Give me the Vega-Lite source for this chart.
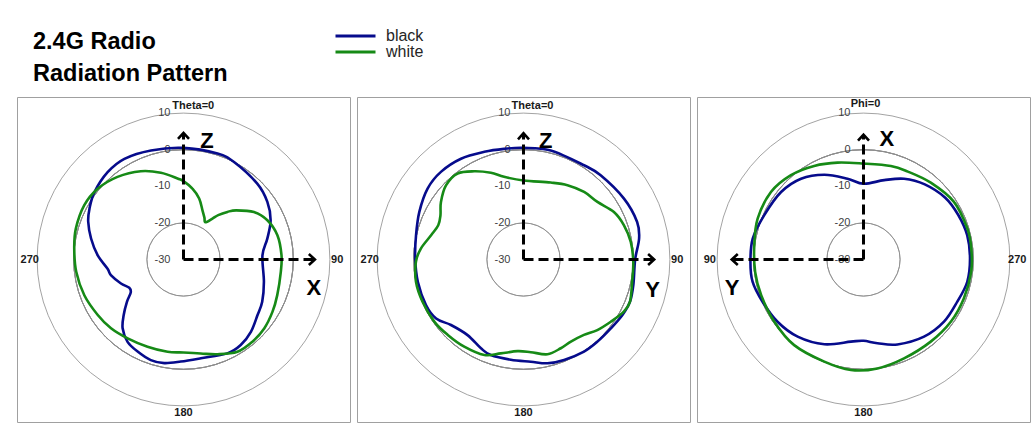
{
"$schema":"https://vega.github.io/schema/vega-lite/v6.json",
"background":"white",
"padding":{"left":16,"top":28,"right":7,"bottom":10},
"config":{"view":{"stroke":"#a0a0a0","strokeWidth":1},"font":"Liberation Sans"},
"title":{"text":["2.4G Radio","Radiation Pattern"],"anchor":"start","frame":"group","fontSize":23.5,"fontWeight":"bold","lineHeight":32,"color":"#000000","offset":-57,"dx":16,"font":"Liberation Sans"},
"spacing":5,
"resolve":{"scale":{"color":"shared"},"legend":{"color":"shared"}},
"datasets":{
"rings":[{"db":-20},{"db":-10},{"db":0},{"db":10}],
"dblabels":[{"db":10,"lab":"10"},{"db":0,"lab":"0"},{"db":-10,"lab":"-10"},{"db":-20,"lab":"-20"},{"db":-30,"lab":"-30"}],
"cats":[{"lab":"90","theta":90},{"lab":"180","theta":180},{"lab":"270","theta":270}],
"p1":[
{"series":"black","theta":0,"db":0.5},{"series":"black","theta":17.8,"db":0.4},{"series":"black","theta":27.4,"db":0.0},{"series":"black","theta":44.2,"db":-1.1},{"series":"black","theta":55.5,"db":-2.2},{"series":"black","theta":65.8,"db":-3.9},{"series":"black","theta":76,"db":-6.4},{"series":"black","theta":87,"db":-8.4},{"series":"black","theta":105.5,"db":-7.2},{"series":"black","theta":118.2,"db":-5.6},{"series":"black","theta":127,"db":-4.7},{"series":"black","theta":137,"db":-3.0},{"series":"black","theta":146.2,"db":-1.9},{"series":"black","theta":155,"db":-1.7},{"series":"black","theta":170,"db":-2.6},{"series":"black","theta":181.5,"db":-2.1},{"series":"black","theta":190.5,"db":-1.2},{"series":"black","theta":198,"db":-1.1},{"series":"black","theta":206.5,"db":-1.9},{"series":"black","theta":214.2,"db":-2.8},{"series":"black","theta":221.5,"db":-4.9},{"series":"black","theta":227.1,"db":-7.7},{"series":"black","theta":233.2,"db":-10.7},{"series":"black","theta":238,"db":-13.0},{"series":"black","theta":242.5,"db":-13.3},{"series":"black","theta":249,"db":-11.7},{"series":"black","theta":257.8,"db":-9.7},{"series":"black","theta":263,"db":-9.1},{"series":"black","theta":272.9,"db":-6.5},{"series":"black","theta":282.8,"db":-4.1},{"series":"black","theta":291.6,"db":-2.0},{"series":"black","theta":298.4,"db":-0.8},{"series":"black","theta":307,"db":0.5},{"series":"black","theta":319,"db":1.6},{"series":"black","theta":329.6,"db":1.9},{"series":"black","theta":343.4,"db":1.1},
{"series":"white","theta":0,"db":-8.6},{"series":"white","theta":7.2,"db":-10.5},{"series":"white","theta":14.4,"db":-12.8},{"series":"white","theta":21.1,"db":-15.6},{"series":"white","theta":26.5,"db":-17.2},{"series":"white","theta":30.5,"db":-18.2},{"series":"white","theta":35.3,"db":-16.3},{"series":"white","theta":38,"db":-14.6},{"series":"white","theta":42.7,"db":-12.3},{"series":"white","theta":47,"db":-10.3},{"series":"white","theta":56,"db":-6.8},{"series":"white","theta":64.9,"db":-4.7},{"series":"white","theta":75.5,"db":-3.5},{"series":"white","theta":87.5,"db":-3.2},{"series":"white","theta":97.2,"db":-3.2},{"series":"white","theta":110.8,"db":-2.6},{"series":"white","theta":120.5,"db":-1.8},{"series":"white","theta":130.5,"db":-1.0},{"series":"white","theta":140,"db":-0.7},{"series":"white","theta":149.7,"db":-0.8},{"series":"white","theta":160.3,"db":-2.5},{"series":"white","theta":169.6,"db":-3.9},{"series":"white","theta":180,"db":-4.6},{"series":"white","theta":189.8,"db":-4.4},{"series":"white","theta":202.4,"db":-4.2},{"series":"white","theta":215.3,"db":-3.6},{"series":"white","theta":226.5,"db":-2.7},{"series":"white","theta":237.1,"db":-2.1},{"series":"white","theta":250.2,"db":-1.2},{"series":"white","theta":263.5,"db":-0.5},{"series":"white","theta":275.7,"db":0.0},{"series":"white","theta":286,"db":0.6},{"series":"white","theta":298.7,"db":0.9},{"series":"white","theta":309.5,"db":0.4},{"series":"white","theta":321.4,"db":-1.1},{"series":"white","theta":334.2,"db":-3.2},{"series":"white","theta":345.4,"db":-5.5},{"series":"white","theta":355.8,"db":-7.8}
],
"p2":[
{"series":"black","theta":0,"db":0.5},{"series":"black","theta":14,"db":0.7},{"series":"black","theta":32.7,"db":0.6},{"series":"black","theta":42.5,"db":1.2},{"series":"black","theta":58.8,"db":2.1},{"series":"black","theta":71.7,"db":2.7},{"series":"black","theta":79.7,"db":2.1},{"series":"black","theta":90,"db":0.5},{"series":"black","theta":103,"db":0.8},{"series":"black","theta":111.6,"db":1.3},{"series":"black","theta":119.3,"db":1.0},{"series":"black","theta":128.3,"db":0.4},{"series":"black","theta":138,"db":0.2},{"series":"black","theta":146.7,"db":0.1},{"series":"black","theta":158,"db":-0.4},{"series":"black","theta":167,"db":-0.9},{"series":"black","theta":175.9,"db":-2.0},{"series":"black","theta":187.2,"db":-2.4},{"series":"black","theta":198.9,"db":-2.4},{"series":"black","theta":205.6,"db":-3.1},{"series":"black","theta":216.5,"db":-4.3},{"series":"black","theta":227.9,"db":-3.3},{"series":"black","theta":236,"db":-1.2},{"series":"black","theta":245,"db":-0.6},{"series":"black","theta":258,"db":-0.5},{"series":"black","theta":270.5,"db":-0.4},{"series":"black","theta":282.7,"db":0.1},{"series":"black","theta":294.6,"db":1.3},{"series":"black","theta":306.5,"db":2.6},{"series":"black","theta":316.7,"db":2.9},{"series":"black","theta":328.2,"db":2.4},{"series":"black","theta":340,"db":1.3},{"series":"black","theta":350,"db":0.7},
{"series":"white","theta":0,"db":-8.4},{"series":"white","theta":19.5,"db":-7.7},{"series":"white","theta":30.6,"db":-6.4},{"series":"white","theta":41.9,"db":-5.2},{"series":"white","theta":52.1,"db":-4.4},{"series":"white","theta":62.3,"db":-2.1},{"series":"white","theta":71.2,"db":-1.0},{"series":"white","theta":80.7,"db":-0.3},{"series":"white","theta":91.2,"db":0.0},{"series":"white","theta":101.6,"db":0.3},{"series":"white","theta":111.6,"db":1.3},{"series":"white","theta":117.5,"db":0.9},{"series":"white","theta":125.5,"db":-0.7},{"series":"white","theta":133.7,"db":-2.1},{"series":"white","theta":141.3,"db":-3.6},{"series":"white","theta":150,"db":-4.1},{"series":"white","theta":157.2,"db":-3.7},{"series":"white","theta":165.8,"db":-3.3},{"series":"white","theta":175.5,"db":-4.6},{"series":"white","theta":183.7,"db":-4.9},{"series":"white","theta":193.6,"db":-3.6},{"series":"white","theta":202.3,"db":-1.8},{"series":"white","theta":214.2,"db":-1.2},{"series":"white","theta":225.1,"db":-0.8},{"series":"white","theta":235,"db":-0.3},{"series":"white","theta":247.3,"db":-0.1},{"series":"white","theta":258.3,"db":0.0},{"series":"white","theta":268.8,"db":-0.6},{"series":"white","theta":276.1,"db":-1.8},{"series":"white","theta":284.7,"db":-3.9},{"series":"white","theta":291.9,"db":-4.9},{"series":"white","theta":298,"db":-4.3},{"series":"white","theta":304.9,"db":-2.5},{"series":"white","theta":313.7,"db":-0.7},{"series":"white","theta":322.5,"db":-0.4},{"series":"white","theta":330.8,"db":-2.4},{"series":"white","theta":339.4,"db":-4.7},{"series":"white","theta":346.8,"db":-6.8}
],
"p3":[
{"series":"black","theta":0,"db":-9.3},{"series":"black","theta":11.2,"db":-7.5},{"series":"black","theta":24.8,"db":-4.5},{"series":"black","theta":37.7,"db":-2.1},{"series":"black","theta":50.7,"db":-0.9},{"series":"black","theta":65.9,"db":-0.3},{"series":"black","theta":79.3,"db":0.8},{"series":"black","theta":91.2,"db":0.9},{"series":"black","theta":101.4,"db":0.9},{"series":"black","theta":112.7,"db":-0.1},{"series":"black","theta":125.9,"db":-1.0},{"series":"black","theta":139.5,"db":-2.3},{"series":"black","theta":155.2,"db":-4.5},{"series":"black","theta":171.3,"db":-7.3},{"series":"black","theta":180,"db":-7.8},{"series":"black","theta":189.5,"db":-6.8},{"series":"black","theta":201.8,"db":-5.0},{"series":"black","theta":218.1,"db":-3.2},{"series":"black","theta":232.3,"db":-2.2},{"series":"black","theta":245.8,"db":-1.9},{"series":"black","theta":257.9,"db":-1.0},{"series":"black","theta":270.5,"db":-0.9},{"series":"black","theta":283.2,"db":-0.9},{"series":"black","theta":295.3,"db":-1.4},{"series":"black","theta":307.1,"db":-2.0},{"series":"black","theta":320.8,"db":-3.5},{"series":"black","theta":333.3,"db":-5.3},{"series":"black","theta":345.4,"db":-7.6},
{"series":"white","theta":0,"db":-3.8},{"series":"white","theta":15,"db":-2.6},{"series":"white","theta":27.8,"db":-1.1},{"series":"white","theta":40.7,"db":0.4},{"series":"white","theta":53.9,"db":1.3},{"series":"white","theta":68.9,"db":1.0},{"series":"white","theta":82.5,"db":0.1},{"series":"white","theta":96.5,"db":-0.2},{"series":"white","theta":109.2,"db":-0.4},{"series":"white","theta":124.9,"db":-0.3},{"series":"white","theta":141,"db":0.1},{"series":"white","theta":159,"db":-0.1},{"series":"white","theta":173.5,"db":0.4},{"series":"white","theta":187.3,"db":0.0},{"series":"white","theta":202.3,"db":-0.8},{"series":"white","theta":219.3,"db":-1.0},{"series":"white","theta":234.5,"db":-0.7},{"series":"white","theta":248.8,"db":-0.6},{"series":"white","theta":263.5,"db":-0.4},{"series":"white","theta":275.8,"db":-0.4},{"series":"white","theta":286.6,"db":-0.4},{"series":"white","theta":302.5,"db":-0.7},{"series":"white","theta":318.8,"db":-2.1},{"series":"white","theta":333.5,"db":-3.1},{"series":"white","theta":343.7,"db":-3.4}
]
},
"hconcat":[
{"width":333,"height":325,"layer":[
{"data":{"name":"rings"},"mark":{"type":"arc","filled":false,"stroke":"#8c8c8c","strokeWidth":0.8},"encoding":{"radius":{"field":"db","type":"quantitative","scale":{"type":"linear","domain":[-30,10],"range":[0,146.4],"zero":false,"nice":false}},"theta":{"value":0},"theta2":{"value":6.2832}}},
{"data":{"name":"dblabels"},"transform":[{"calculate":"datum.db+30","as":"r"}],"mark":{"type":"text","align":"right","baseline":"middle","dx":-13,"fontSize":11,"color":"#404040"},"encoding":{"x":{"datum":0,"type":"quantitative","scale":{"domain":[-45.49,45.49],"nice":false,"zero":false},"axis":null},"y":{"field":"r","type":"quantitative","scale":{"domain":[-44.4,44.4],"nice":false,"zero":false},"axis":null},"text":{"field":"lab","type":"nominal"}}},
{"data":{"name":"p1"},"transform":[{"calculate":"(datum.db+30)*sin(datum.theta*PI/180)","as":"x"},{"calculate":"(datum.db+30)*cos(datum.theta*PI/180)","as":"y"}],"mark":{"type":"line","interpolate":"cardinal-closed","strokeWidth":2.6},"encoding":{"x":{"field":"x","type":"quantitative","scale":{"domain":[-45.49,45.49],"nice":false,"zero":false},"axis":null},"y":{"field":"y","type":"quantitative","scale":{"domain":[-44.4,44.4],"nice":false,"zero":false},"axis":null},"order":{"field":"theta","type":"quantitative"},"color":{"field":"series","type":"nominal","scale":{"domain":["black","white"],"range":["#060b8c","#168a16"]},"legend":{"orient":"none","legendX":330.5,"legendY":-69,"title":null,"symbolType":"M-4,0L4,0","symbolSize":100,"symbolStrokeWidth":3,"labelFont":"Liberation Sans","labelFontSize":16,"labelColor":"#262626","labelOffset":22.5,"rowPadding":0,"padding":0}}}},
{"data":{"name":"cats"},"transform":[{"calculate":"42*sin(datum.theta*PI/180)","as":"x"},{"calculate":"42*cos(datum.theta*PI/180)","as":"y"}],"mark":{"type":"text","align":"center","baseline":"middle","fontSize":11,"fontWeight":"bold","color":"#1a1a1a"},"encoding":{"x":{"field":"x","type":"quantitative","scale":{"domain":[-45.49,45.49],"nice":false,"zero":false},"axis":null},"y":{"field":"y","type":"quantitative","scale":{"domain":[-44.4,44.4],"nice":false,"zero":false},"axis":null},"text":{"field":"lab","type":"nominal"}}},
{"data":{"values":[{"lab":"Theta=0"}]},"mark":{"type":"text","align":"center","baseline":"middle","dx":9.8,"fontSize":11,"fontWeight":"bold","color":"#1a1a1a"},"encoding":{"x":{"datum":0,"type":"quantitative"},"y":{"datum":41.9,"type":"quantitative"},"text":{"field":"lab","type":"nominal"}}},
{"data":{"values":[{"axis":"Z"}]},"mark":{"type":"rule","color":"#000000","strokeWidth":3,"strokeDash":[10,5]},"encoding":{"x":{"datum":0,"type":"quantitative"},"y":{"datum":0,"type":"quantitative"},"y2":{"datum":34.4}}},
{"data":{"values":[{"axis":"X"}]},"mark":{"type":"rule","color":"#000000","strokeWidth":3,"strokeDash":[10,5]},"encoding":{"x":{"datum":0,"type":"quantitative"},"x2":{"datum":35.8},"y":{"datum":0,"type":"quantitative"}}},
{"data":{"values":[{"axis":"Z"}]},"mark":{"type":"point","shape":"M-1,1.1L0,0L1,1.1","size":121,"filled":false,"color":"#000000","strokeWidth":2.6,"opacity":1},"encoding":{"x":{"datum":0,"type":"quantitative"},"y":{"datum":34.6,"type":"quantitative"}}},
{"data":{"values":[{"axis":"X"}]},"mark":{"type":"point","shape":"M-1.1,-1L0,0L-1.1,1","size":121,"filled":false,"color":"#000000","strokeWidth":2.6,"opacity":1},"encoding":{"x":{"datum":35.9,"type":"quantitative"},"y":{"datum":0,"type":"quantitative"}}},
{"data":{"values":[{"axis":"Z"}]},"mark":{"type":"text","align":"center","baseline":"middle","fontSize":22,"fontWeight":"bold","color":"#000000"},"encoding":{"x":{"datum":6.4,"type":"quantitative"},"y":{"datum":32.5,"type":"quantitative"},"text":{"field":"axis","type":"nominal"}}},
{"data":{"values":[{"axis":"X"}]},"mark":{"type":"text","align":"center","baseline":"middle","fontSize":22,"fontWeight":"bold","color":"#000000"},"encoding":{"x":{"datum":35.6,"type":"quantitative"},"y":{"datum":-7.9,"type":"quantitative"},"text":{"field":"axis","type":"nominal"}}}
]},
{"width":333,"height":325,"layer":[
{"data":{"name":"rings"},"mark":{"type":"arc","filled":false,"stroke":"#8c8c8c","strokeWidth":0.8},"encoding":{"radius":{"field":"db","type":"quantitative","scale":{"type":"linear","domain":[-30,10],"range":[0,146.4],"zero":false,"nice":false}},"theta":{"value":0},"theta2":{"value":6.2832}}},
{"data":{"name":"dblabels"},"transform":[{"calculate":"datum.db+30","as":"r"}],"mark":{"type":"text","align":"right","baseline":"middle","dx":-13,"fontSize":11,"color":"#404040"},"encoding":{"x":{"datum":0,"type":"quantitative","scale":{"domain":[-45.49,45.49],"nice":false,"zero":false},"axis":null},"y":{"field":"r","type":"quantitative","scale":{"domain":[-44.4,44.4],"nice":false,"zero":false},"axis":null},"text":{"field":"lab","type":"nominal"}}},
{"data":{"name":"p2"},"transform":[{"calculate":"(datum.db+30)*sin(datum.theta*PI/180)","as":"x"},{"calculate":"(datum.db+30)*cos(datum.theta*PI/180)","as":"y"}],"mark":{"type":"line","interpolate":"cardinal-closed","strokeWidth":2.6},"encoding":{"x":{"field":"x","type":"quantitative","scale":{"domain":[-45.49,45.49],"nice":false,"zero":false},"axis":null},"y":{"field":"y","type":"quantitative","scale":{"domain":[-44.4,44.4],"nice":false,"zero":false},"axis":null},"order":{"field":"theta","type":"quantitative"},"color":{"field":"series","type":"nominal","scale":{"domain":["black","white"],"range":["#060b8c","#168a16"]},"legend":{"orient":"none","legendX":330.5,"legendY":-69,"title":null,"symbolType":"M-4,0L4,0","symbolSize":100,"symbolStrokeWidth":3,"labelFont":"Liberation Sans","labelFontSize":16,"labelColor":"#262626","labelOffset":22.5,"rowPadding":0,"padding":0}}}},
{"data":{"name":"cats"},"transform":[{"calculate":"42*sin(datum.theta*PI/180)","as":"x"},{"calculate":"42*cos(datum.theta*PI/180)","as":"y"}],"mark":{"type":"text","align":"center","baseline":"middle","fontSize":11,"fontWeight":"bold","color":"#1a1a1a"},"encoding":{"x":{"field":"x","type":"quantitative","scale":{"domain":[-45.49,45.49],"nice":false,"zero":false},"axis":null},"y":{"field":"y","type":"quantitative","scale":{"domain":[-44.4,44.4],"nice":false,"zero":false},"axis":null},"text":{"field":"lab","type":"nominal"}}},
{"data":{"values":[{"lab":"Theta=0"}]},"mark":{"type":"text","align":"center","baseline":"middle","dx":9,"fontSize":11,"fontWeight":"bold","color":"#1a1a1a"},"encoding":{"x":{"datum":0,"type":"quantitative"},"y":{"datum":41.9,"type":"quantitative"},"text":{"field":"lab","type":"nominal"}}},
{"data":{"values":[{"axis":"Z"}]},"mark":{"type":"rule","color":"#000000","strokeWidth":3,"strokeDash":[10,5]},"encoding":{"x":{"datum":0,"type":"quantitative"},"y":{"datum":0,"type":"quantitative"},"y2":{"datum":34.4}}},
{"data":{"values":[{"axis":"Y"}]},"mark":{"type":"rule","color":"#000000","strokeWidth":3,"strokeDash":[10,5]},"encoding":{"x":{"datum":0,"type":"quantitative"},"x2":{"datum":35.6},"y":{"datum":0,"type":"quantitative"}}},
{"data":{"values":[{"axis":"Z"}]},"mark":{"type":"point","shape":"M-1,1.1L0,0L1,1.1","size":121,"filled":false,"color":"#000000","strokeWidth":2.6,"opacity":1},"encoding":{"x":{"datum":0,"type":"quantitative"},"y":{"datum":34.5,"type":"quantitative"}}},
{"data":{"values":[{"axis":"Y"}]},"mark":{"type":"point","shape":"M-1.1,-1L0,0L-1.1,1","size":121,"filled":false,"color":"#000000","strokeWidth":2.6,"opacity":1},"encoding":{"x":{"datum":35.7,"type":"quantitative"},"y":{"datum":0,"type":"quantitative"}}},
{"data":{"values":[{"axis":"Z"}]},"mark":{"type":"text","align":"center","baseline":"middle","fontSize":22,"fontWeight":"bold","color":"#000000"},"encoding":{"x":{"datum":6.1,"type":"quantitative"},"y":{"datum":32.3,"type":"quantitative"},"text":{"field":"axis","type":"nominal"}}},
{"data":{"values":[{"axis":"Y"}]},"mark":{"type":"text","align":"center","baseline":"middle","fontSize":22,"fontWeight":"bold","color":"#000000"},"encoding":{"x":{"datum":35.3,"type":"quantitative"},"y":{"datum":-8.4,"type":"quantitative"},"text":{"field":"axis","type":"nominal"}}}
]},
{"width":333,"height":325,"layer":[
{"data":{"name":"rings"},"mark":{"type":"arc","filled":false,"stroke":"#8c8c8c","strokeWidth":0.8},"encoding":{"radius":{"field":"db","type":"quantitative","scale":{"type":"linear","domain":[-30,10],"range":[0,146.4],"zero":false,"nice":false}},"theta":{"value":0},"theta2":{"value":6.2832}}},
{"data":{"name":"dblabels"},"transform":[{"calculate":"datum.db+30","as":"r"}],"mark":{"type":"text","align":"right","baseline":"middle","dx":-13,"fontSize":11,"color":"#404040"},"encoding":{"x":{"datum":0,"type":"quantitative","scale":{"domain":[-45.49,45.49],"nice":false,"zero":false},"axis":null},"y":{"field":"r","type":"quantitative","scale":{"domain":[-44.4,44.4],"nice":false,"zero":false},"axis":null},"text":{"field":"lab","type":"nominal"}}},
{"data":{"name":"p3"},"transform":[{"calculate":"-(datum.db+30)*sin(datum.theta*PI/180)","as":"x"},{"calculate":"(datum.db+30)*cos(datum.theta*PI/180)","as":"y"}],"mark":{"type":"line","interpolate":"cardinal-closed","strokeWidth":2.6},"encoding":{"x":{"field":"x","type":"quantitative","scale":{"domain":[-45.49,45.49],"nice":false,"zero":false},"axis":null},"y":{"field":"y","type":"quantitative","scale":{"domain":[-44.4,44.4],"nice":false,"zero":false},"axis":null},"order":{"field":"theta","type":"quantitative"},"color":{"field":"series","type":"nominal","scale":{"domain":["black","white"],"range":["#060b8c","#168a16"]},"legend":{"orient":"none","legendX":330.5,"legendY":-69,"title":null,"symbolType":"M-4,0L4,0","symbolSize":100,"symbolStrokeWidth":3,"labelFont":"Liberation Sans","labelFontSize":16,"labelColor":"#262626","labelOffset":22.5,"rowPadding":0,"padding":0}}}},
{"data":{"name":"cats"},"transform":[{"calculate":"-42*sin(datum.theta*PI/180)","as":"x"},{"calculate":"42*cos(datum.theta*PI/180)","as":"y"}],"mark":{"type":"text","align":"center","baseline":"middle","fontSize":11,"fontWeight":"bold","color":"#1a1a1a"},"encoding":{"x":{"field":"x","type":"quantitative","scale":{"domain":[-45.49,45.49],"nice":false,"zero":false},"axis":null},"y":{"field":"y","type":"quantitative","scale":{"domain":[-44.4,44.4],"nice":false,"zero":false},"axis":null},"text":{"field":"lab","type":"nominal"}}},
{"data":{"values":[{"lab":"Phi=0"}]},"mark":{"type":"text","align":"center","baseline":"middle","dx":2,"fontSize":11,"fontWeight":"bold","color":"#1a1a1a"},"encoding":{"x":{"datum":0,"type":"quantitative"},"y":{"datum":42.4,"type":"quantitative"},"text":{"field":"lab","type":"nominal"}}},
{"data":{"values":[{"axis":"X"}]},"mark":{"type":"rule","color":"#000000","strokeWidth":3,"strokeDash":[10,5]},"encoding":{"x":{"datum":0,"type":"quantitative"},"y":{"datum":0,"type":"quantitative"},"y2":{"datum":34.0}}},
{"data":{"values":[{"axis":"Y"}]},"mark":{"type":"rule","color":"#000000","strokeWidth":3,"strokeDash":[10,5]},"encoding":{"x":{"datum":0,"type":"quantitative"},"x2":{"datum":-35.9},"y":{"datum":0,"type":"quantitative"}}},
{"data":{"values":[{"axis":"X"}]},"mark":{"type":"point","shape":"M-1,1.1L0,0L1,1.1","size":121,"filled":false,"color":"#000000","strokeWidth":2.6,"opacity":1},"encoding":{"x":{"datum":0,"type":"quantitative"},"y":{"datum":34.1,"type":"quantitative"}}},
{"data":{"values":[{"axis":"Y"}]},"mark":{"type":"point","shape":"M1.1,-1L0,0L1.1,1","size":121,"filled":false,"color":"#000000","strokeWidth":2.6,"opacity":1},"encoding":{"x":{"datum":-36.0,"type":"quantitative"},"y":{"datum":0,"type":"quantitative"}}},
{"data":{"values":[{"axis":"X"}]},"mark":{"type":"text","align":"center","baseline":"middle","fontSize":22,"fontWeight":"bold","color":"#000000"},"encoding":{"x":{"datum":6.4,"type":"quantitative"},"y":{"datum":33.0,"type":"quantitative"},"text":{"field":"axis","type":"nominal"}}},
{"data":{"values":[{"axis":"Y"}]},"mark":{"type":"text","align":"center","baseline":"middle","fontSize":22,"fontWeight":"bold","color":"#000000"},"encoding":{"x":{"datum":-35.9,"type":"quantitative"},"y":{"datum":-7.7,"type":"quantitative"},"text":{"field":"axis","type":"nominal"}}}
]}
]
}
